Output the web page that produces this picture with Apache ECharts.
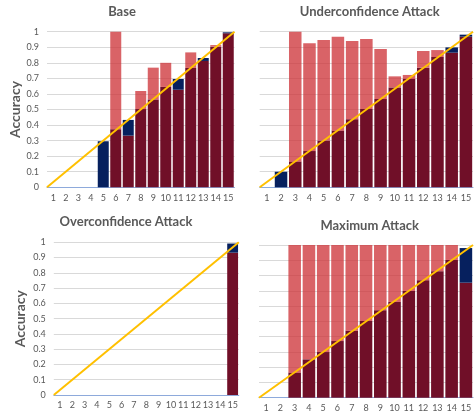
<!DOCTYPE html>
<html>
<head>
<meta charset="utf-8">
<script src="https://cdn.jsdelivr.net/npm/echarts@6/dist/echarts.min.js"></script>
<style>
  html, body { margin: 0; padding: 0; background: #fff; }
  #chart { width: 474px; height: 414px; }
</style>
</head>
<body>
<div id="chart"></div>
<script>
// Reliability diagrams: per-bin accuracy vs. mean confidence (15 bins)
const bins = ['1','2','3','4','5','6','7','8','9','10','11','12','13','14','15'];
const yTicks = [0, 0.1, 0.2, 0.3, 0.4, 0.5, 0.6, 0.7, 0.8, 0.9, 1];

const panelTitles = ['Base', 'Underconfidence Attack', 'Overconfidence Attack', 'Maximum Attack'];

// null = empty bin
const baseAcc  = [null, null, null, null, 0,    1.0,  0.332, 0.619, 0.769, 0.80,  0.627, 0.867, 0.812, 0.914, 0.99];
const baseConf = [null, null, null, null, 0.296, 0.373, 0.433, 0.503, 0.565, 0.645, 0.696, 0.767, 0.831, 0.904, 0.996];

const underAcc  = [null, 0,    1.0,   0.925, 0.946, 0.968, 0.94,  0.953, 0.889, 0.713, 0.722, 0.876, 0.882, 0.865, 0.968];
const underConf = [null, 0.10, 0.165, 0.233, 0.30,  0.364, 0.437, 0.503, 0.567, 0.642, 0.696, 0.769, 0.837, 0.899, 0.981];

const overAcc  = [null, null, null, null, null, null, null, null, null, null, null, null, null, null, 0.932];
const overConf = [null, null, null, null, null, null, null, null, null, null, null, null, null, null, 0.992];

const maxAcc  = [null, null, 1.0,   1.0,   1.0,   1.0,   1.0,   1.0,   1.0,   1.0,   1.0,   1.0,   1.0,   1.0,   0.753];
const maxConf = [null, null, 0.164, 0.251, 0.299, 0.371, 0.439, 0.502, 0.572, 0.627, 0.699, 0.769, 0.828, 0.902, 0.98];

const panels = [
  { title: panelTitles[0], acc: baseAcc,  conf: baseConf },
  { title: panelTitles[1], acc: underAcc, conf: underConf },
  { title: panelTitles[2], acc: overAcc,  conf: overConf },
  { title: panelTitles[3], acc: maxAcc,   conf: maxConf }
];

const COLOR_BASE  = '#700f28';                 // min(accuracy, confidence)
const COLOR_UNDER = 'rgba(205, 50, 55, 0.76)'; // accuracy above confidence
const COLOR_OVER  = '#06205e';                 // confidence above accuracy
const COLOR_DIAG  = '#ffc000';
const TEXT = '#595959';
const FONT = 'Lato';

const grids = [
  { left: 47,    top: 31.7,  width: 187.5, height: 155.6 },
  { left: 259.7, top: 31.7,  width: 217.5, height: 155.6 },
  { left: 53.8,  top: 242.3, width: 185,   height: 152.7 },
  { left: 259,   top: 245,   width: 218,   height: 152.7 }
];
const titlePos = [[122, 12], [369.7, 12], [126, 222], [369.7, 225.7]];
const showYLabels = [true, false, true, false];

const xAxes = [], yAxes = [], series = [], graphics = [];

panels.forEach((p, i) => {
  // category axis for bars
  xAxes.push({
    type: 'category', gridIndex: i, data: bins,
    axisLine: { show: true, lineStyle: { color: '#8eaadb', width: 1 } },
    axisTick: { show: false },
    axisLabel: { color: TEXT, fontSize: 9, fontFamily: FONT, margin: 6, interval: 0 },
    z: 1
  });
  // hidden unit axis for the reference diagonal
  xAxes.push({ type: 'value', gridIndex: i, min: 0, max: 1, show: false });

  yAxes.push({
    type: 'value', gridIndex: i, min: 0, max: 1, interval: 0.1,
    name: showYLabels[i] ? 'Accuracy' : '',
    nameLocation: 'middle', nameRotate: 90,
    nameGap: i === 0 ? 21 : 26,
    nameTextStyle: { color: TEXT, fontSize: 14, fontWeight: 'bold', fontFamily: FONT },
    axisLine: { show: false }, axisTick: { show: false },
    axisLabel: {
      show: showYLabels[i], color: TEXT, fontSize: 9, fontFamily: FONT, margin: 8,
      formatter: v => String(Math.round(v * 10) / 10)
    },
    splitLine: { show: true, lineStyle: { color: '#d9d9d9', width: 1 } }
  });

  const low = [], under = [], over = [];
  p.acc.forEach((a, k) => {
    const c = p.conf[k];
    if (a === null || c === null) { low.push('-'); under.push('-'); over.push('-'); return; }
    const m = Math.min(a, c);
    low.push(m > 0 ? m : '-');
    under.push(a > c ? +(a - c).toFixed(4) : '-');
    over.push(c > a ? +(c - a).toFixed(4) : '-');
  });

  const barCommon = {
    type: 'bar', xAxisIndex: 2 * i, yAxisIndex: i, stack: 'bin' + i,
    barCategoryGap: '12%', silent: true, animation: false
  };
  series.push(Object.assign({}, barCommon, { name: 'base' + i, data: low,   itemStyle: { color: COLOR_BASE } }));
  series.push(Object.assign({}, barCommon, { name: 'over' + i, data: over,  itemStyle: { color: COLOR_OVER } }));
  series.push(Object.assign({}, barCommon, { name: 'under' + i, data: under, itemStyle: { color: COLOR_UNDER } }));

  series.push({
    type: 'line', xAxisIndex: 2 * i + 1, yAxisIndex: i,
    data: [[0, 0], [1, 1]], symbol: 'none', silent: true, animation: false,
    lineStyle: { color: COLOR_DIAG, width: 2 }, z: 5
  });

  graphics.push({
    type: 'text', x: titlePos[i][0], y: titlePos[i][1],
    style: {
      text: p.title, fill: TEXT, font: 'bold 13px ' + FONT,
      textAlign: 'center', textVerticalAlign: 'middle'
    }
  });
});

const chart = echarts.init(document.getElementById('chart'), null, { renderer: 'canvas' });
chart.setOption({
  animation: false,
  backgroundColor: '#ffffff',
  grid: grids,
  xAxis: xAxes,
  yAxis: yAxes,
  series: series,
  graphic: graphics
});
</script>
</body>
</html>
